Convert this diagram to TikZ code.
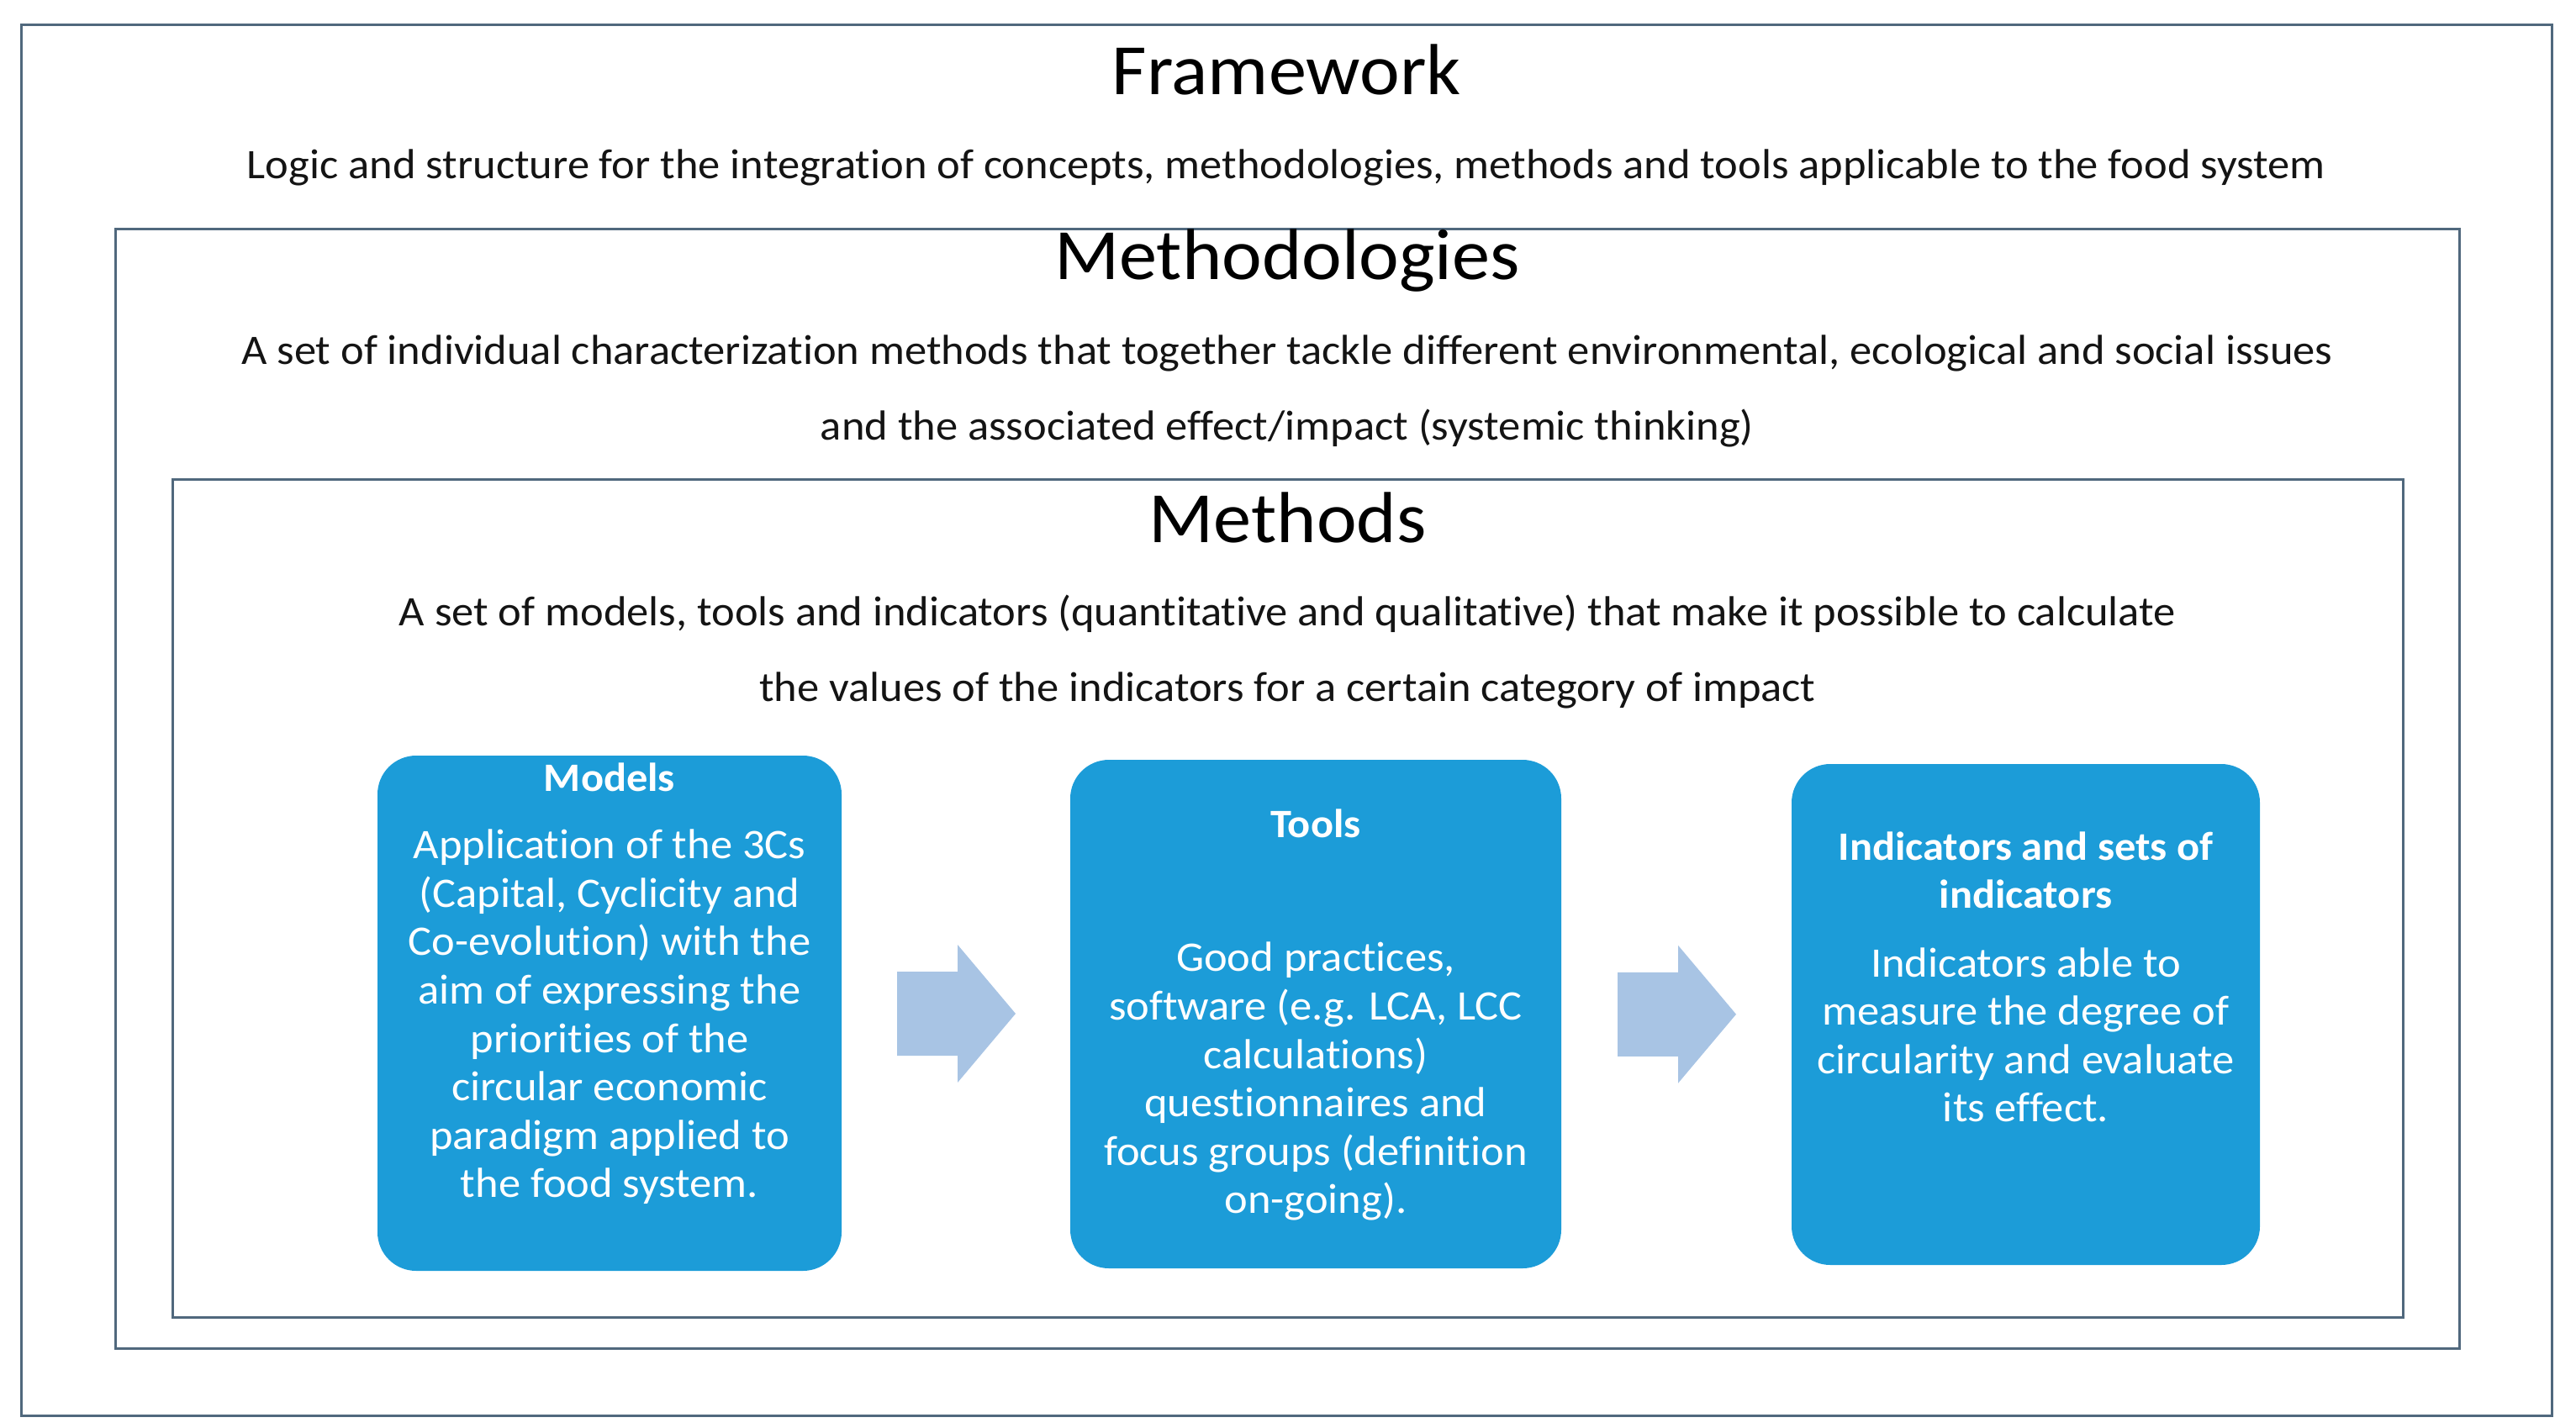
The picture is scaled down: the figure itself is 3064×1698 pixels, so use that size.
\documentclass[tikz,border=0pt]{standalone}
\usepackage{fontspec}
\setmainfont{Carlito}[FakeStretch=1.05, RawFeature={-liga;-clig;-calt;-dlig}]
\usetikzlibrary{calc}

\begin{document}
\begin{tikzpicture}[x=1pt, y=-1pt,
  frame/.style={draw=frameline, line width=3pt, inner sep=0pt},
  card/.style={fill=cardblue, draw=none, rounded corners=46pt, inner sep=0pt},
  heading/.style={anchor=base, inner sep=0pt, text=black, font=\fontsize{86}{100}\selectfont},
  lead/.style={anchor=base, inner sep=0pt, align=center, text=textgray, font=\fontsize{50}{90}\selectfont},
  cardtext/.style={anchor=base, inner sep=0pt, align=center, text=white, font=\fontsize{50}{57.6}\selectfont},
  cardhead/.style={cardtext, font=\fontsize{48}{57.6}\selectfont\bfseries}]

  \definecolor{frameline}{RGB}{80,104,125}
  \definecolor{cardblue}{RGB}{28,156,216}
  \definecolor{arrowfill}{RGB}{168,196,228}
  \definecolor{textgray}{RGB}{20,20,20}

  \useasboundingbox (0,0) rectangle (3064,1698);

  % Draw the frames first

  \node[frame, minimum width=3010pt, minimum height=1655pt] (framework) at (1530,856.5) {};
  \node[frame, minimum width=2788pt, minimum height=1332pt] (methodologies) at (1531,938) {};
  \node[frame, minimum width=2653pt, minimum height=997pt] (methods) at (1531.5,1068.5) {};

  % (a node of several lines sits on the baseline of its last line)

  \node[heading] (frameworktitle) at ($(framework.north)+(0,85)$) {Framework};
  \node[lead] (frameworklead) at ($(framework.north)+(0,185)$)
    {Logic and structure for the integration of concepts, methodologies, methods and tools applicable to the food system};

  \node[heading] (methodologiestitle) at ($(methodologies.north)+(0,62)$) {Methodologies};
  \node[lead] (methodologieslead) at ($(methodologies.north)+(0,253)$)
    {A set of individual characterization methods that together tackle different environmental, ecological and social issues\\
     and the associated effect/impact (systemic thinking)};

  \node[heading] (methodstitle) at ($(methods.north)+(0,77)$) {Methods};
  \node[lead] (methodslead) at ($(methods.north)+(0,266)$)
    {A set of models, tools and indicators (quantitative and qualitative) that make it possible to calculate\\
     the values of the indicators for a certain category of impact};

  % Then the cards

  \node[card, minimum width=552pt, minimum height=613pt] (models) at (725,1205.5) {};
  \node[card, minimum width=584pt, minimum height=605pt] (tools) at (1565,1206.5) {};
  \node[card, minimum width=557pt, minimum height=596pt] (indicators) at (2409.5,1207) {};

  \node[cardhead] (modelshead) at ($(models.north)+(0,43)$) {Models};
  \node[cardtext] (modelsbody) at ($(models.north)+(0,526)$)
    {Application of the 3Cs\\(Capital, Cyclicity and\\Co-evolution) with the\\aim of expressing the\\priorities of the\\circular economic\\paradigm applied to\\the food system.};

  \node[cardhead] (toolshead) at ($(tools.north)+(0,93)$) {Tools};
  \node[cardtext] (toolsbody) at ($(tools.north)+(0,540)$)
    {Good practices,\\software (e.g. LCA, LCC\\calculations)\\questionnaires and\\focus groups (definition\\on-going).};

  \node[cardhead] (indicatorshead) at ($(indicators.north)+(0,172)$) {Indicators and sets of\\indicators};
  \node[cardtext] (indicatorsbody) at ($(indicators.north)+(0,426)$)
    {Indicators able to\\measure the degree of\\circularity and evaluate\\its effect.};

  % Block arrows between the cards

  \foreach \from/\to in {models/tools, tools/indicators}{
    \coordinate (gap) at ($(\from.east)!0.5!(\to.west)$);
    \fill[arrowfill] ($(gap)+(-70,-50)$) -- ++(72,0) -- ++(0,-32) -- ++(69,82)
      -- ++(-69,82) -- ++(0,-32) -- ++(-72,0) -- cycle;
  }
\end{tikzpicture}
\end{document}
